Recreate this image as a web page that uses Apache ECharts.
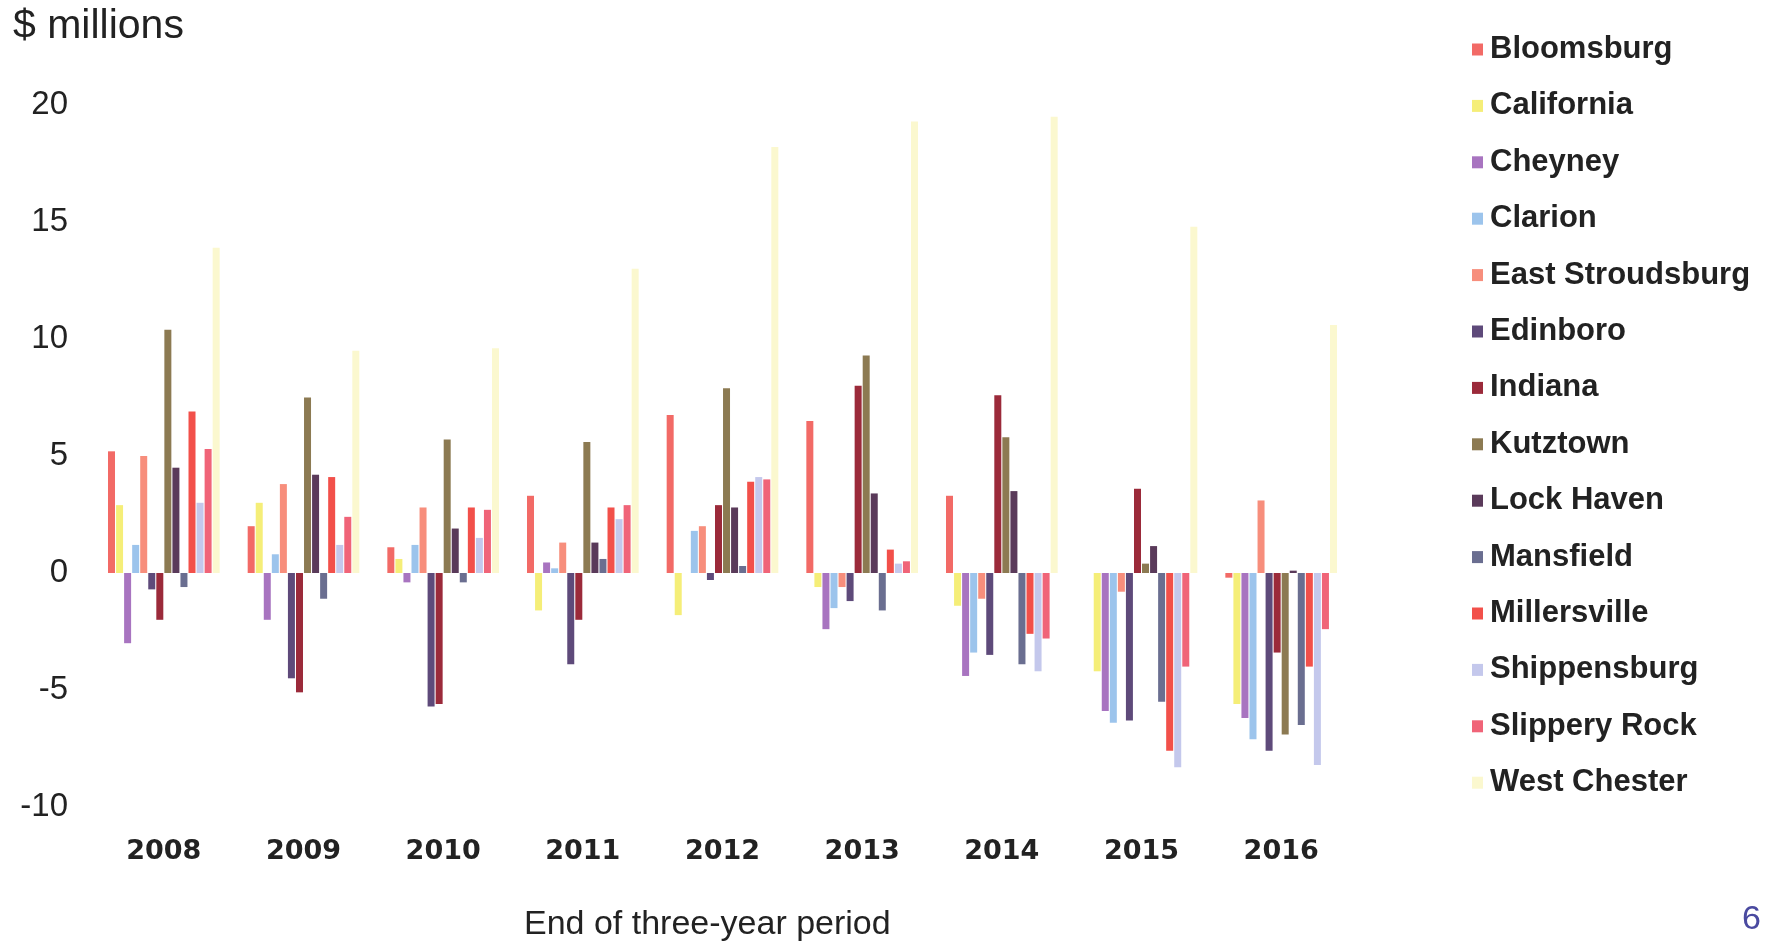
<!DOCTYPE html>
<html>
<head>
<meta charset="utf-8">
<script src="https://cdn.jsdelivr.net/npm/echarts@6/dist/echarts.min.js"></script>
<style>
html,body{margin:0;padding:0;background:#fff;}
#chart{width:1775px;height:944px;}
</style>
</head>
<body>
<div id="chart"></div>
<script>
const years = ['2008','2009','2010','2011','2012','2013','2014','2015','2016'];
const yTicks = [-10, -5, 0, 5, 10, 15, 20];

const bloomsburg      = [5.2, 2.0, 1.1, 3.3, 6.75, 6.5, 3.3, 0, -0.2];
const california      = [2.9, 3.0, 0.6, -1.6, -1.8, -0.6, -1.4, -4.2, -5.6];
const cheyney         = [-3.0, -2.0, -0.4, 0.45, 0, -2.4, -4.4, -5.9, -6.2];
const clarion         = [1.2, 0.8, 1.2, 0.2, 1.8, -1.5, -3.4, -6.4, -7.1];
const eastStroudsburg = [5.0, 3.8, 2.8, 1.3, 2.0, -0.6, -1.1, -0.8, 3.1];
const edinboro        = [-0.7, -4.5, -5.7, -3.9, -0.3, -1.2, -3.5, -6.3, -7.6];
const indiana         = [-2.0, -5.1, -5.6, -2.0, 2.9, 8.0, 7.6, 3.6, -3.4];
const kutztown        = [10.4, 7.5, 5.7, 5.6, 7.9, 9.3, 5.8, 0.4, -6.9];
const lockHaven       = [4.5, 4.2, 1.9, 1.3, 2.8, 3.4, 3.5, 1.15, 0.1];
const mansfield       = [-0.6, -1.1, -0.4, 0.6, 0.3, -1.6, -3.9, -5.5, -6.5];
const millersville    = [6.9, 4.1, 2.8, 2.8, 3.9, 1.0, -2.6, -7.6, -4.0];
const shippensburg    = [3.0, 1.2, 1.5, 2.3, 4.1, 0.4, -4.2, -8.3, -8.2];
const slipperyRock    = [5.3, 2.4, 2.7, 2.9, 4.0, 0.5, -2.8, -4.0, -2.4];
const westChester     = [13.9, 9.5, 9.6, 13.0, 18.2, 19.3, 19.5, 14.8, 10.6];

const seriesNames = ['Bloomsburg','California','Cheyney','Clarion','East Stroudsburg','Edinboro','Indiana','Kutztown','Lock Haven','Mansfield','Millersville','Shippensburg','Slippery Rock','West Chester'];
const seriesData = [bloomsburg, california, cheyney, clarion, eastStroudsburg, edinboro, indiana, kutztown, lockHaven, mansfield, millersville, shippensburg, slipperyRock, westChester];
const seriesColors = ['#f26a66','#f5ee78','#a874c0','#9cc4ec','#f78e7c','#5e4a7a','#9b2a3a','#8c7a52','#5a3a5a','#6a6e90','#f2504a','#c4c8ec','#f06478','#fbf8cf'];

const chart = echarts.init(document.getElementById('chart'), null, {renderer:'canvas'});

const series = seriesNames.map((n, i) => ({
  name: n,
  type: 'bar',
  data: seriesData[i],
  barWidth: 7,
  barGap: '15%',
  itemStyle: { color: seriesColors[i] },
  emphasis: { disabled: true }
}));

chart.setOption({
  animation: false,
  backgroundColor: '#ffffff',
  grid: { left: 94, right: 424, top: 105, bottom: 137 },
  legend: {
    orient: 'vertical',
    left: 1467,
    top: 29,
    itemWidth: 11,
    itemHeight: 12,
    itemGap: 25.4,
    icon: 'rect',
    textStyle: { fontFamily: 'Liberation Sans', fontWeight: 'bold', fontSize: 31, color: '#222', lineHeight: 30, padding: [0,0,0,2] },
    data: seriesNames
  },
  xAxis: {
    type: 'category',
    data: years,
    position: 'bottom',
    axisLine: { show: false, onZero: false },
    axisTick: { show: false },
    axisLabel: { margin: 31, fontFamily: 'DejaVu Sans', fontWeight: 'bold', fontSize: 27, color: '#222' }
  },
  yAxis: {
    type: 'value',
    min: yTicks[0],
    max: yTicks[yTicks.length - 1],
    interval: 5,
    splitLine: { show: false },
    axisLine: { show: false },
    axisTick: { show: false },
    axisLabel: { margin: 26, fontFamily: 'Liberation Sans', fontSize: 33, color: '#222' }
  },
  graphic: [
    { type: 'text', left: 13, top: 6, style: { text: '$ millions', font: '41px "Liberation Sans"', fill: '#222' } },
    { type: 'text', left: 524, top: 908, style: { text: 'End of three-year period', font: '34px "Liberation Sans"', fill: '#222' } },
    { type: 'text', left: 1742, top: 903, style: { text: '6', font: '34px "Liberation Sans"', fill: '#4a4aa0' } }
  ],
  series: series
});
</script>
</body>
</html>
